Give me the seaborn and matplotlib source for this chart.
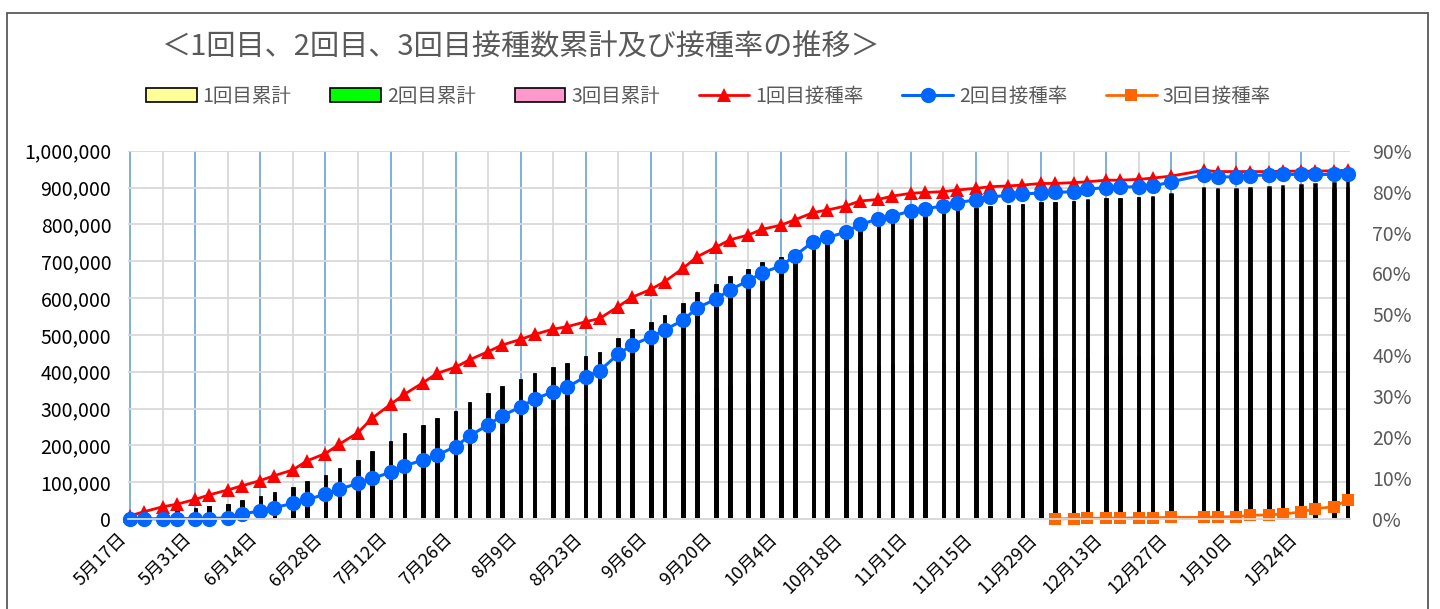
import pandas as pd
import matplotlib
matplotlib.use("Agg")
import matplotlib.pyplot as plt
import matplotlib.ticker as ticker
from matplotlib.patches import Patch, Rectangle
from matplotlib.lines import Line2D
import seaborn as sns

# 接種日 (月・木)
dates = [
    "2021-05-17", "2021-05-20", "2021-05-24", "2021-05-27", "2021-05-31", "2021-06-03",
    "2021-06-07", "2021-06-10", "2021-06-14", "2021-06-17", "2021-06-21", "2021-06-24",
    "2021-06-28", "2021-07-01", "2021-07-05", "2021-07-08", "2021-07-12", "2021-07-15",
    "2021-07-19", "2021-07-22", "2021-07-26", "2021-07-29", "2021-08-02", "2021-08-05",
    "2021-08-09", "2021-08-12", "2021-08-16", "2021-08-19", "2021-08-23", "2021-08-26",
    "2021-08-30", "2021-09-02", "2021-09-06", "2021-09-09", "2021-09-13", "2021-09-16",
    "2021-09-20", "2021-09-23", "2021-09-27", "2021-09-30", "2021-10-04", "2021-10-07",
    "2021-10-11", "2021-10-14", "2021-10-18", "2021-10-21", "2021-10-25", "2021-10-28",
    "2021-11-01", "2021-11-04", "2021-11-08", "2021-11-11", "2021-11-15", "2021-11-18",
    "2021-11-22", "2021-11-25", "2021-11-29", "2021-12-02", "2021-12-06", "2021-12-09",
    "2021-12-13", "2021-12-16", "2021-12-20", "2021-12-23", "2021-12-27", "2022-01-03",
    "2022-01-06", "2022-01-10", "2022-01-13", "2022-01-17", "2022-01-20", "2022-01-24",
    "2022-01-27", "2022-01-31", "2022-02-03",
]

# 接種率 (%)
rate_1st = [
    0.8, 1.8, 3.0, 3.6, 4.8, 5.9, 7.1, 8.1, 9.4, 10.6, 12.0, 14.2, 16.0, 18.3, 21.1,
    24.6, 28.0, 30.5, 33.3, 35.6, 37.1, 38.9, 40.9, 42.5, 43.9, 45.1, 46.4, 47.0, 48.2,
    49.0, 51.9, 54.2, 56.1, 58.0, 61.3, 64.1, 66.4, 68.2, 69.4, 70.8, 71.8, 73.1, 74.9,
    75.5, 76.5, 77.7, 78.1, 78.9, 79.6, 79.8, 80.0, 80.4, 80.8, 81.2, 81.4, 81.6, 82.0,
    82.0, 82.2, 82.4, 82.8, 82.8, 83.0, 83.3, 83.8, 85.2, 84.9, 84.9, 84.9, 84.9, 85.0,
    85.0, 85.0, 85.1, 85.2,
]
rate_2nd = [
    0.0, 0.0, 0.1, 0.1, 0.1, 0.1, 0.3, 1.2, 2.0, 2.8, 3.8, 4.8, 6.0, 7.3, 8.7,
    9.9, 11.4, 13.0, 14.4, 15.6, 17.7, 20.3, 23.0, 25.2, 27.4, 29.3, 31.1, 32.2, 34.8,
    36.2, 40.3, 42.5, 44.5, 46.2, 48.6, 51.6, 53.7, 56.0, 58.2, 60.2, 61.8, 64.3, 67.8,
    68.8, 70.1, 72.0, 73.3, 74.0, 75.3, 75.8, 76.5, 77.3, 78.0, 78.6, 79.2, 79.4, 79.7,
    79.8, 80.0, 80.6, 81.0, 81.1, 81.2, 81.3, 82.4, 84.1, 83.6, 83.6, 83.9, 84.1, 84.2,
    84.2, 84.2, 84.2, 84.3,
]
rate_3rd = [None] * 57 + [
    0.0, 0.1, 0.2, 0.2, 0.2, 0.3, 0.3, 0.4, 0.4, 0.5, 0.6, 0.9, 1.0, 1.2, 1.7,
    2.5, 3.0, 4.6,
]

# 対象人口 (累計人数 = 接種率 x 人口)
population = 530000

sns.set_theme(style="white")
plt.rcParams['font.family'] = ['Noto Sans CJK JP', 'DejaVu Sans']

df = pd.DataFrame({"date": pd.to_datetime(dates), "rate1": rate_1st,
                   "rate2": rate_2nd, "rate3": rate_3rd})
df["rate3"] = df["rate3"].astype(float)
start = df["date"].min()
df["day"] = (df["date"] - start).dt.days
df["n1"] = df["rate1"] / 100 * population
df["n2"] = df["rate2"] / 100 * population
df["n3"] = df["rate3"].fillna(0) / 100 * population
df["n12"] = df["n1"] + df["n2"]
df["n123"] = df["n12"] + df["n3"]

fig = plt.figure(figsize=(14.4, 6.09), dpi=100)
ax = fig.add_axes([128 / 1440, 1 - 519 / 609, (1350 - 128) / 1440, (519 - 150.7) / 609])

bar_kw = dict(native_scale=True, width=0.35 / 3, edgecolor="black", linewidth=1.8,
              errorbar=None, saturation=1, ax=ax)
sns.barplot(data=df, x="day", y="n123", color="#FF99CC", **bar_kw)
sns.barplot(data=df, x="day", y="n12", color="#00FF00", **bar_kw)
sns.barplot(data=df, x="day", y="n1", color="#FFFF99", **bar_kw)

ax2 = ax.twinx()
line_kw = dict(ax=ax2, markeredgewidth=0, clip_on=False)
sns.lineplot(data=df, x="day", y="rate1", color="#FF0000", marker="^",
             markersize=10, linewidth=2, **line_kw)
sns.lineplot(data=df, x="day", y="rate2", color="#0066FF", marker="o",
             markersize=11, linewidth=2.2, **line_kw)
d3 = df.dropna(subset=["rate3"])
sns.lineplot(data=d3, x="day", y="rate3", color="#FF6600", marker="s",
             markersize=8, linewidth=2, **line_kw)

ax.set_xlim(-0.5, 262.5)
ax.set_ylim(0, 1_000_000)
ax2.set_ylim(0, 90)

major = list(range(0, 253, 14))
minor = list(range(7, 263, 14))
ax.set_xticks(major)
ax.set_xticks(minor, minor=True)
labels = []
for d in major:
    t = start + pd.Timedelta(days=d)
    labels.append(f"{t.month}月{t.day}日")
ax.set_xticklabels(labels, rotation=45, ha="right", fontsize=13, color="black")
ax.tick_params(axis="x", which="major", length=5, color="#D9D9D9", width=1.2, pad=3)
ax.tick_params(axis="x", which="minor", length=0)

ax.set_yticks(range(0, 1_000_001, 100_000))
ax.yaxis.set_major_formatter(ticker.StrMethodFormatter("{x:,.0f}"))
ax.tick_params(axis="y", length=0, labelsize=14, labelcolor="black", pad=12)

ax2.set_yticks(range(0, 91, 10))
ax2.yaxis.set_major_formatter(ticker.FuncFormatter(lambda v, p: f"{int(v)}%"))
ax2.tick_params(axis="y", length=0, labelsize=14, labelcolor="#595959", pad=16)

ax.set_axisbelow(True)
ax.yaxis.grid(True, color="#D9D9D9", linewidth=1.3)
ax.xaxis.grid(True, which="major", color="#5B9BD5", linewidth=1.1)
ax.xaxis.grid(True, which="minor", color="#D9D9D9", linewidth=1.3)
ax2.grid(False)

for a in (ax, ax2):
    a.set_xlabel("")
    a.set_ylabel("")
    for s in ["top", "left", "right"]:
        a.spines[s].set_visible(False)
    a.spines["bottom"].set_color("#D9D9D9")
    a.spines["bottom"].set_linewidth(1.3)

fig.text(0.362, 1 - 48 / 609, "＜1回目、2回目、3回目接種数累計及び接種率の推移＞",
         ha="center", va="center", fontsize=21, color="#595959")

handles = [
    Patch(facecolor="#FFFF99", edgecolor="black", linewidth=1.2),
    Patch(facecolor="#00FF00", edgecolor="black", linewidth=1.2),
    Patch(facecolor="#FF99CC", edgecolor="black", linewidth=1.2),
    Line2D([0], [0], color="#FF0000", marker="^", markersize=10, markeredgewidth=0, lw=2),
    Line2D([0], [0], color="#0066FF", marker="o", markersize=11, markeredgewidth=0, lw=2.2),
    Line2D([0], [0], color="#FF6600", marker="s", markersize=8, markeredgewidth=0, lw=2),
]
names = ["1回目累計", "2回目累計", "3回目累計", "1回目接種率", "2回目接種率", "3回目接種率"]
fig.legend(handles=handles, labels=names, loc="center", bbox_to_anchor=(0.492, 1 - 96 / 609),
           ncol=6, frameon=False, fontsize=14, handlelength=2.6, columnspacing=2.0,
           handletextpad=0.3, labelcolor="#595959")

fig.patches.append(Rectangle((7 / 1440, -0.1), (1428 - 7) / 1440, 1.1 - 13 / 609,
                             transform=fig.transFigure, fill=False,
                             edgecolor="#595959", linewidth=1.3))

fig.savefig("out.png", dpi=100)
